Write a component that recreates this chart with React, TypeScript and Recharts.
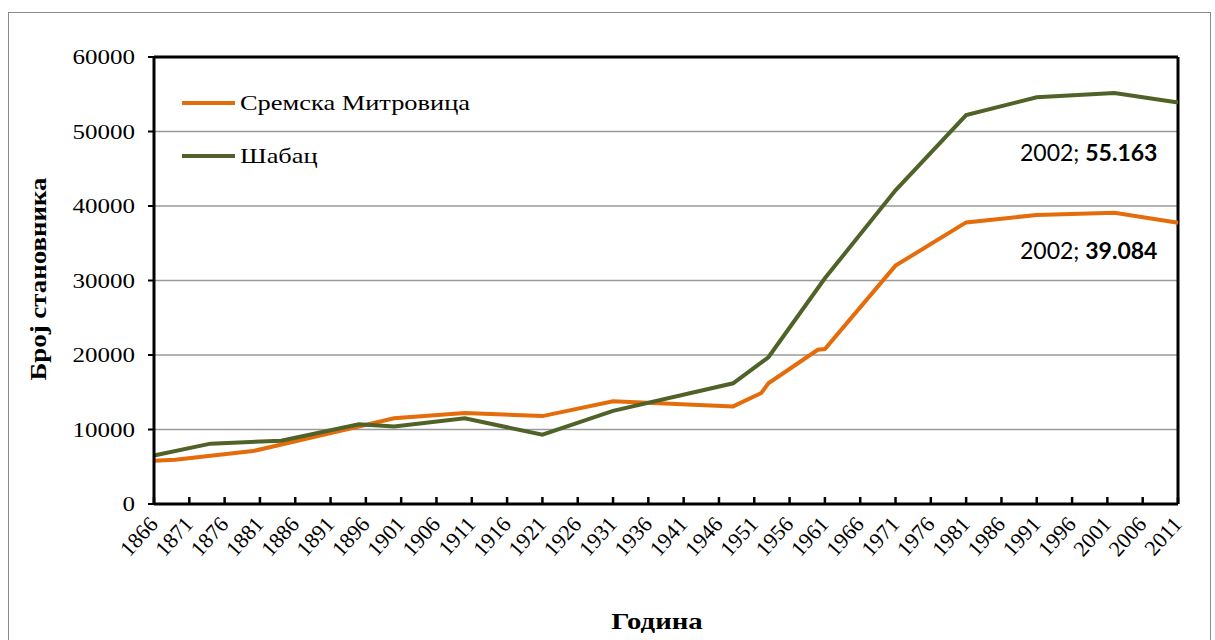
import { LineChart, Line, XAxis, YAxis, CartesianGrid, ReferenceLine, LabelList } from 'recharts';

// Сремска Митровица – census years and population
const smYears = [1866, 1869, 1880, 1900, 1910, 1921, 1931, 1948, 1952, 1953, 1960, 1961, 1971, 1981, 1991, 2002, 2011];
const smValues = [5800, 5950, 7100, 11500, 12200, 11800, 13800, 13100, 14900, 16200, 20700, 20800, 32000, 37800, 38800, 39084, 37751];

// Шабац
const sabacYears = [1866, 1874, 1884, 1895, 1900, 1910, 1921, 1931, 1948, 1953, 1961, 1971, 1981, 1991, 2002, 2011];
const sabacValues = [6500, 8100, 8500, 10700, 10400, 11500, 9300, 12500, 16200, 19700, 30300, 42100, 52200, 54600, 55163, 53900];

const xTicks = [1866, 1871, 1876, 1881, 1886, 1891, 1896, 1901, 1906, 1911, 1916, 1921, 1926, 1931, 1936, 1941, 1946, 1951, 1956, 1961, 1966, 1971, 1976, 1981, 1986, 1991, 1996, 2001, 2006, 2011];
const yTicks = [0, 10000, 20000, 30000, 40000, 50000, 60000];

const labelYear = 2002;

const smData = smYears.map((year, i) => ({ year, value: smValues[i] }));
const sabacData = sabacYears.map((year, i) => ({ year, value: sabacValues[i] }));

const ORANGE = '#E46C0A';
const GREEN = '#4F6228';
const SERIF = 'Liberation Serif, Times New Roman, serif';
const STRETCH = 1.2; // the source text is a bit wider than Times

// x ticks: small marks inside the plot, labels rotated under the axis
const XTick = (props: any) => {
  const { x, y, payload } = props;
  const tx = x + 5;
  const ty = y + 21;
  return (
    <g>
      <line x1={x} y1={y} x2={x} y2={y - 7} stroke="#000" strokeWidth={2.5} />
      <text x={tx} y={ty} textAnchor="end" fontSize={22} fontFamily={SERIF} fill="#000"
        transform={`rotate(-48 ${tx} ${ty})`}>
        {payload.value}
      </text>
    </g>
  );
};

const YTick = (props: any) => {
  const { x, y, payload } = props;
  return (
    <text transform={`translate(${x} ${y}) scale(${STRETCH + 0.05} 1)`} textAnchor="end" dy="0.35em"
      fontSize={20} fontFamily={SERIF} fill="#000">
      {payload.value}
    </text>
  );
};

// "2002; 55.163" style label, only for the 2002 point
const pointLabel = (data: { year: number }[], dx: number, dy: number) => (props: any) => {
  const { x, y, index, value } = props;
  if (data[index]?.year !== labelYear) return null;
  return (
    <text x={x + dx} y={y + dy} textAnchor="end" fontSize={23} fontFamily="Lato, 'Open Sans', sans-serif" fill="#000">
      {labelYear}; <tspan fontWeight="bold">{(value / 1000).toFixed(3)}</tspan>
    </text>
  );
};

const legendItems = [
  { name: 'Сремска Митровица', color: ORANGE },
  { name: 'Шабац', color: GREEN },
];

export default function App() {
  return (
    <div style={{ position: 'fixed', left: 0, top: 0, width: 1215, height: 640, background: '#fff', overflow: 'hidden' }}>
      <div style={{
        position: 'absolute', left: 8, top: 12, width: 1203, height: 700,
        border: '1.5px solid #8a8a8a', boxSizing: 'border-box',
      }} />

      <div style={{ position: 'absolute', left: 0, top: 0 }}>
        <LineChart width={1215} height={640} margin={{ top: 57, right: 37, bottom: 76, left: 74 }}>
          <CartesianGrid vertical={false} stroke="#9a9a9a" strokeWidth={1.5} />
          <XAxis
            dataKey="year" type="number" domain={[1866, 2011]} ticks={xTicks} interval={0}
            allowDuplicatedCategory={false}
            height={60} tickSize={0} tickMargin={0} tickLine={false}
            axisLine={{ stroke: '#000', strokeWidth: 3 }}
            tick={<XTick />}
            label={{
              content: () => (
                <text transform={`translate(657 629) scale(${STRETCH} 1)`} textAnchor="middle" fontSize={24}
                  fontWeight="bold" fontFamily={SERIF} fill="#000">
                  Година
                </text>
              ),
            }}
          />
          <YAxis
            type="number" domain={[0, 60000]} ticks={yTicks} interval={0}
            width={80} tickSize={6} tickMargin={13}
            tickLine={{ stroke: '#000', strokeWidth: 2 }}
            axisLine={{ stroke: '#000', strokeWidth: 3 }}
            tick={<YTick />}
            label={{
              content: () => (
                <text transform={`translate(46 279) rotate(-90) scale(1.12 1)`} textAnchor="middle" fontSize={24}
                  fontWeight="bold" fontFamily={SERIF} fill="#000">
                  Број становника
                </text>
              ),
            }}
          />
          <ReferenceLine y={60000} stroke="#000" strokeWidth={3} />
          <ReferenceLine x={2011} stroke="#000" strokeWidth={3} />

          <Line data={smData} dataKey="value" name="Сремска Митровица" type="linear"
            stroke={ORANGE} strokeWidth={4} dot={false} activeDot={false} isAnimationActive={false}>
            <LabelList dataKey="value" content={pointLabel(smData, 43, 46)} />
          </Line>
          <Line data={sabacData} dataKey="value" name="Шабац" type="linear"
            stroke={GREEN} strokeWidth={4} dot={false} activeDot={false} isAnimationActive={false}>
            <LabelList dataKey="value" content={pointLabel(sabacData, 43, 68)} />
          </Line>
        </LineChart>
      </div>

      {/* legend box, top-left inside the plot */}
      <div style={{ position: 'absolute', left: 182, top: 88, fontFamily: SERIF, fontSize: 22, color: '#000' }}>
        {legendItems.map(item => (
          <div key={item.name} style={{ display: 'flex', alignItems: 'center', height: 30, marginBottom: 23 }}>
            <span style={{ display: 'inline-block', width: 53, height: 4, background: item.color, marginRight: 5 }} />
            <span style={{ display: 'inline-block', transform: `scaleX(${STRETCH})`, transformOrigin: 'left center' }}>
              {item.name}
            </span>
          </div>
        ))}
      </div>
    </div>
  );
}
